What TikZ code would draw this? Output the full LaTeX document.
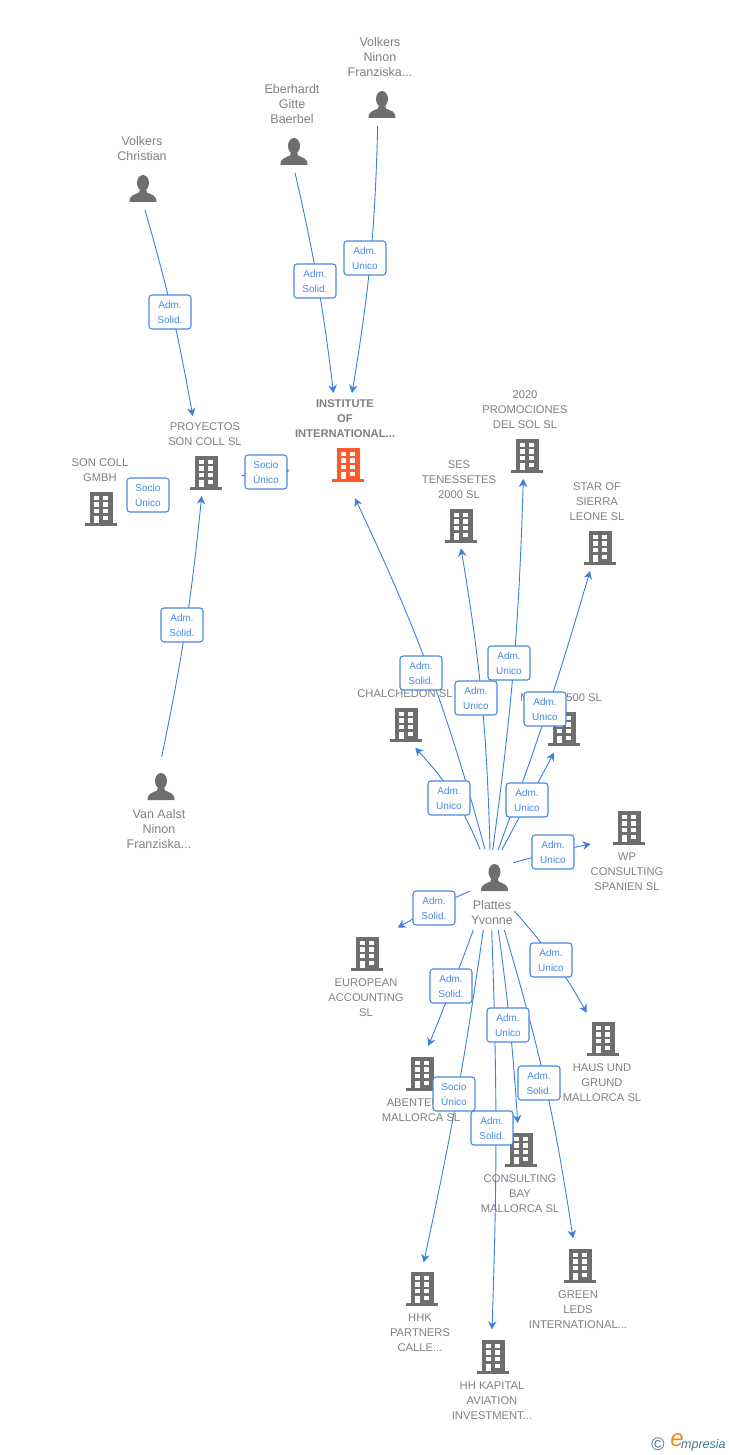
\documentclass[tikz,border=0pt]{standalone}
\usepackage{fontspec}
\setmainfont{Liberation Sans}
\usetikzlibrary{arrows.meta,calc}
\definecolor{icongray}{HTML}{6E6E6E}
\definecolor{textgray}{HTML}{808080}
\definecolor{linkblue}{HTML}{3B7FDD}
\definecolor{boxblue}{HTML}{4A88E4}
\definecolor{mainorange}{HTML}{FF5A2C}
\definecolor{logoblue}{HTML}{3F7391}
\definecolor{logoorange}{HTML}{F28A1E}
\tikzset{
  pics/building/.style={code={
    \fill[#1] (-11.5,-17) rectangle (11.5,14);
    \fill[#1] (-16,14) rectangle (16,17);
    \foreach \wx in {-7,2.3} \foreach \wy in {-13.3,-6.6,0}
      \fill[white] (\wx,\wy) rectangle +(4.8,4.3);
    \fill[white] (2.3,6.7) rectangle +(4.8,4.3);
    \fill[white] (-7,6.7) rectangle (-2.2,14);
  }},
  pics/person/.style={code={
    \fill[#1] (0,-6) ellipse (6 and 8);
    \fill[#1] (-13.5,13) .. controls (-13.5,6) and (-9,6) .. (-4,3.5) -- (-3,0)
      -- (3,0) -- (4,3.5) .. controls (9,6) and (13.5,6) .. (13.5,13) -- cycle;
  }},
  anchorpt/.style={inner sep=0pt, minimum size=0pt},
  namelabel/.style={text=textgray, align=center, inner sep=0pt, font=\fontsize{11.2}{15}\selectfont},
  personlabel/.style={text=textgray, align=center, inner sep=0pt, font=\fontsize{12.5}{15}\selectfont},
  rolebox/.style={draw=boxblue, line width=1.1pt, fill=white, rounded corners=3pt, text=boxblue, align=center,
    inner sep=0pt, minimum width=42pt, minimum height=34pt, font=\fontsize{10}{15}\selectfont},
  link/.style={draw=linkblue, line width=0.9pt, -{Stealth[length=8pt,width=8.5pt,inset=2.5pt]}}
}
\begin{document}
\begin{tikzpicture}[x=1pt, y=-1pt]
  \useasboundingbox (0,0) rectangle (728,1455);

  \foreach \n/\x/\y/\lx/\ly/\t in {
      ninon/382/105/380/57/{Volkers\\Ninon\\Franziska...},
      gitte/294/152/292/104/{Eberhardt\\Gitte\\Baerbel},
      christian/143/189/142/148.5/{Volkers\\Christian},
      aalst/161/787/159/829/{Van Aalst\\Ninon\\Franziska...},
      plattes/494.5/878/492/912.5/{Plattes\\Yvonne}} {
    \node [anchorpt] (v\n) at (\x,\y) {};
    \pic at (v\n) {person=icongray};
    \node [personlabel] (l\n) at (\lx,\ly) {\t};
  }

  \foreach \n/\x/\y/\lx/\ly/\t in {
      proyectos/206/473/205/434.5/{PROYECTOS\\SON COLL SL},
      soncoll/101/509/100/470.5/{SON COLL\\GMBH},
      promociones/527/456/525/410/{2020\\PROMOCIONES\\DEL SOL SL},
      ses/461/526/459/480/{SES\\TENESSETES\\2000 SL},
      star/600/548/597/502/{STAR OF\\SIERRA\\LEONE SL},
      chalchedon/406/725/405/694/{CHALCHEDON SL},
      quinientos/564/729/561/698/{M\hspace{37pt}500 SL},
      wp/629/828/627/872/{WP\\CONSULTING\\SPANIEN SL},
      european/367/954/366/998/{EUROPEAN\\ACCOUNTING\\SL},
      haus/603/1039/602/1083/{HAUS UND\\GRUND\\MALLORCA SL},
      abenteuer/422/1074/421/1110.5/{ABENTEUER\\MALLORCA SL},
      bay/521/1150/520/1194/{CONSULTING\\BAY\\MALLORCA SL},
      green/580/1266/578/1310/{GREEN\\LEDS\\INTERNATIONAL...},
      hhk/422/1289/420/1333/{HHK\\PARTNERS\\CALLE...},
      kapital/493/1357/492/1401/{HH KAPITAL\\AVIATION\\INVESTMENT...}} {
    \node [anchorpt] (v\n) at (\x,\y) {};
    \pic at (v\n) {building=icongray};
    \node [namelabel] (l\n) at (\lx,\ly) {\t};
  }

  \node [anchorpt] (vinstitute) at (348,465) {};
  \pic at (vinstitute) {building=mainorange};
  \node [namelabel, font=\fontsize{11.2}{15}\selectfont\bfseries] (linstitute) at (345,419) {INSTITUTE\\OF\\INTERNATIONAL...};

  \foreach \i/\sx/\sy/\j/\ex/\ey/\b in {
      ninon/-4.3/21/institute/4/-72/4,
      gitte/1/20.7/institute/-14.5/-72/3,
      christian/2/21/proyectos/-13.3/-57/3,
      aalst/0.7/-30.3/proyectos/-4.3/23/-3,
      soncoll/35/-5/proyectos/-45/10/0,
      proyectos/35.7/2.7/institute/-58.5/5.7/0,
      plattes/-9.5/-28.7/institute/7/33.3/-5,
      plattes/-4.5/-28/ses/0/22.3/-4,
      plattes/-1.8/-28/promociones/-3.7/23/-3,
      plattes/3.5/-28/star/-10/23/-2,
      plattes/-14.5/-28.7/chalchedon/9.3/22.7/-10,
      plattes/7.2/-28/quinientos/-10/23.7/0,
      plattes/18.8/-15.3/wp/-38.3/16/2,
      plattes/-24.5/13/european/30.7/-26.3/-3,
      plattes/-21.2/52/abenteuer/6.3/-28/1,
      plattes/19.8/33/haus/-16.3/-26.3/6,
      plattes/3.8/52/bay/-3.3/-27/2,
      plattes/9.8/52/green/-7/-27.7/4,
      plattes/-11.2/52/hhk/1.7/-26.7/2,
      plattes/-2.8/52/kapital/-1/-27.7/2}
    \draw [link] ($(v\i)+(\sx,\sy)$) to [bend left=\b] ($(v\j)+(\ex,\ey)$);

  \foreach \n/\x/\y/\t in {
      a/365/258/{Adm.\\Unico}, b/315/281/{Adm.\\Solid.},
      c/170/312/{Adm.\\Solid.}, d/182/625/{Adm.\\Solid.},
      e/148/495/{Socio\\Único}, f/266/472/{Socio\\Único},
      g/421/673/{Adm.\\Solid.}, h/476/698/{Adm.\\Unico},
      i/509/663/{Adm.\\Unico}, j/545/709/{Adm.\\Unico},
      k/449/798/{Adm.\\Unico}, m/527/800/{Adm.\\Unico},
      n/553/852/{Adm.\\Unico}, o/434/908/{Adm.\\Solid.},
      p/451/986/{Adm.\\Solid.}, q/551/960/{Adm.\\Unico},
      r/508/1025/{Adm.\\Unico}, s/539/1083/{Adm.\\Solid.},
      t/454/1094/{Socio\\Único}, u/492/1128/{Adm.\\Solid.}}
    \node [rolebox] (box\n) at (\x,\y) {\t};

  \node [text=logoblue, inner sep=0pt, font=\fontsize{18}{18}\selectfont] (logoc) at (658,1444) {\textcopyright};
  \node [text=logoorange, inner sep=0pt, font=\fontsize{24}{24}\selectfont\itshape] (logoe) at (677,1440) {e};
  \node [text=logoblue, anchor=west, inner sep=0pt, font=\fontsize{12.5}{12}\selectfont\itshape] (logot) at (681,1445) {mpresia};
\end{tikzpicture}
\end{document}
